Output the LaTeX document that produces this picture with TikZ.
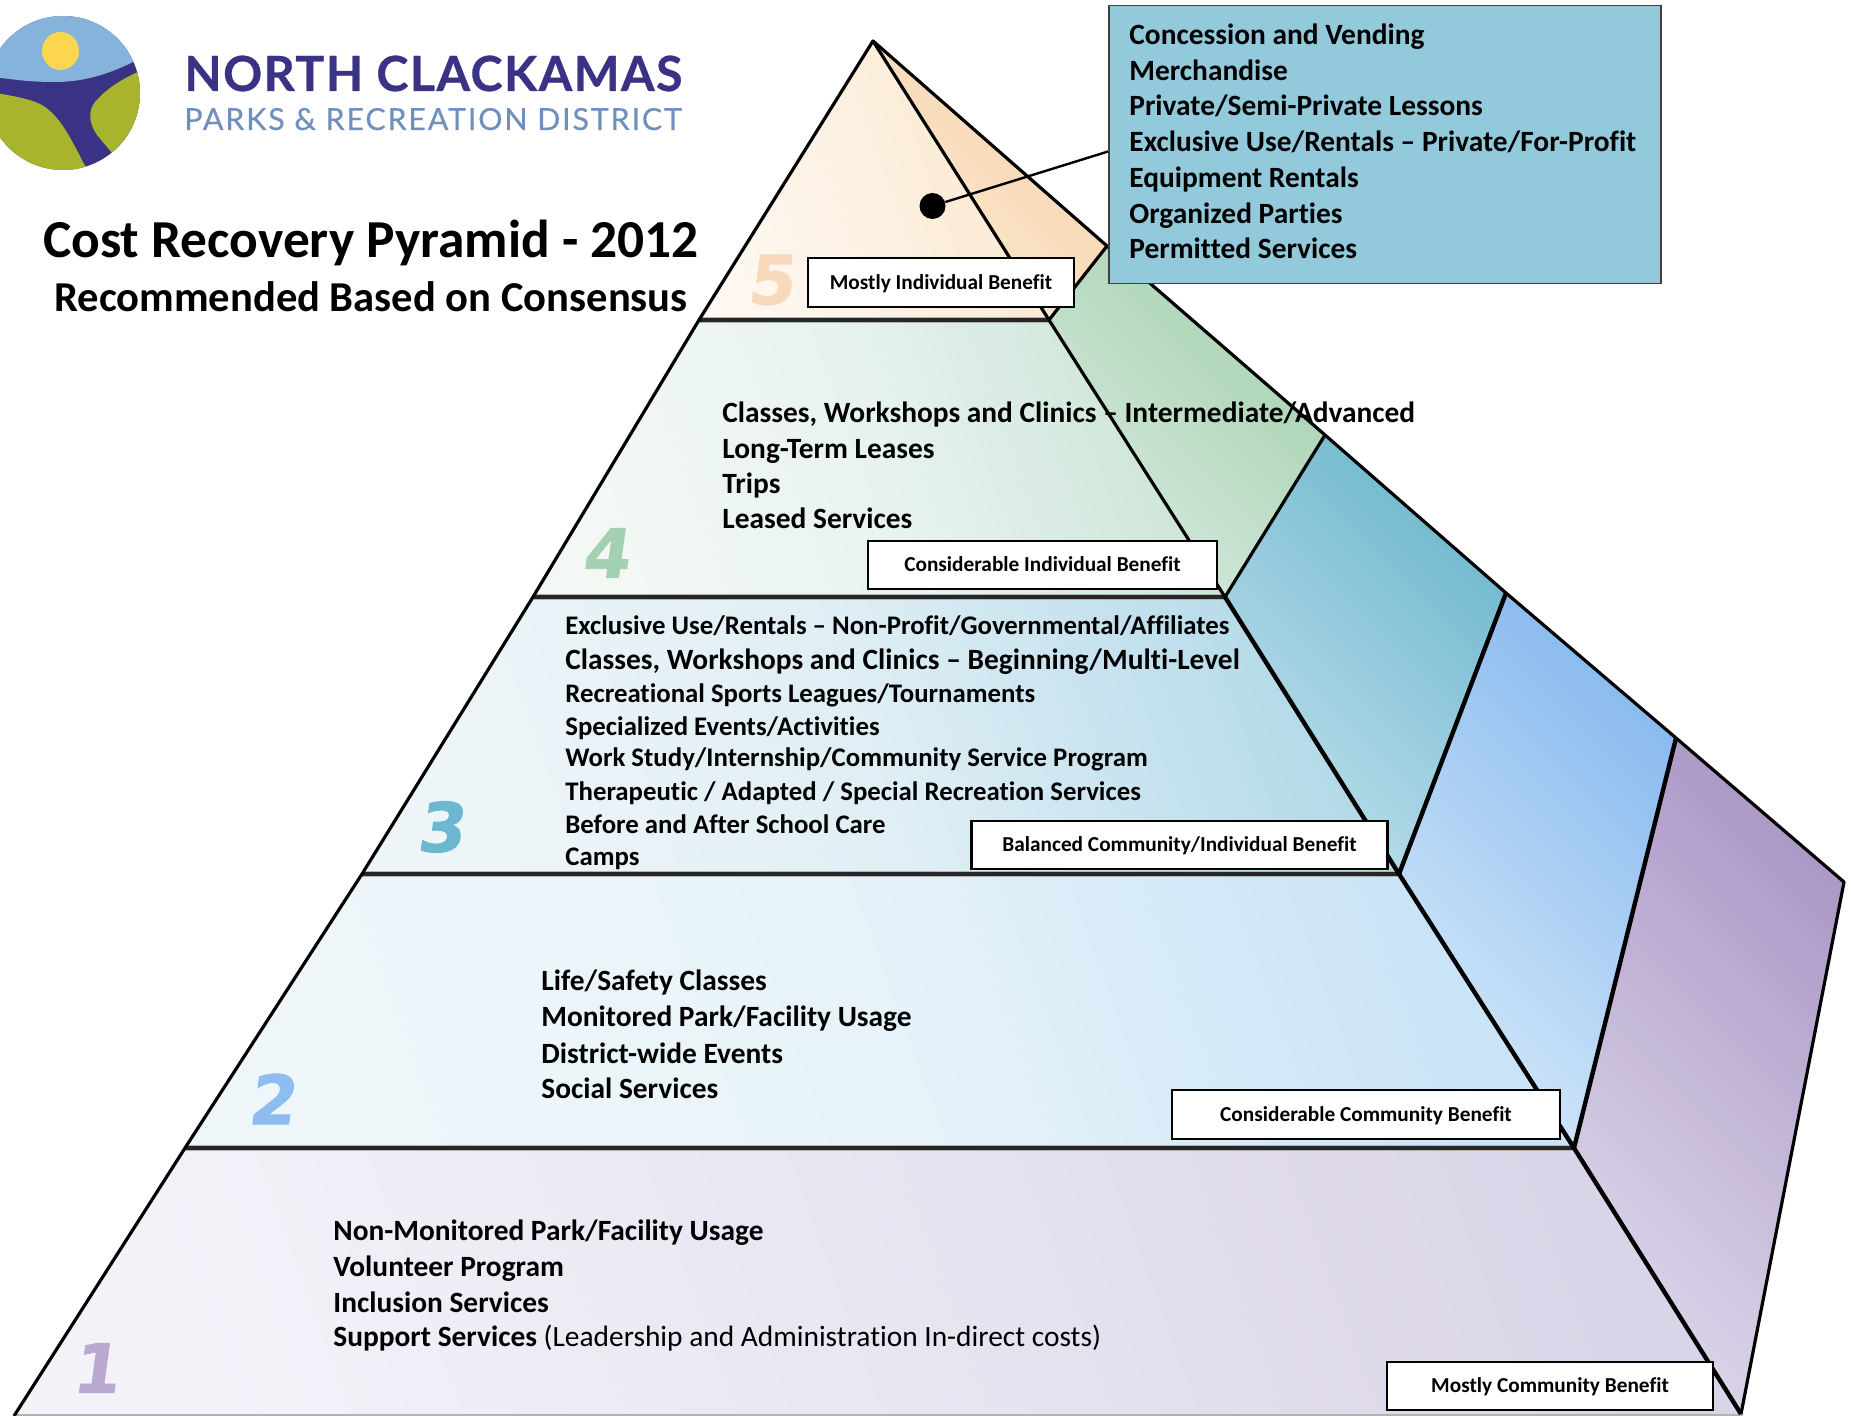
\documentclass[tikz,border=0pt]{standalone}
\usepackage{fontspec}
\setmainfont[Ligatures=NoCommon]{Carlito}
\newfontfamily\numfont[FakeSlant=0.14,FakeBold=1.2]{DejaVu Sans}
\newfontfamily\logoa[LetterSpace=3,FakeBold=0.6]{Lato}
\newfontfamily\logob[LetterSpace=6,FakeBold=0.4]{Lato}
\definecolor{logonavy}{HTML}{3A3284}
\definecolor{logosky}{HTML}{85B3DC}
\definecolor{logogreen}{HTML}{A8B52C}
\definecolor{logosun}{HTML}{FDD64F}
\definecolor{logoblue}{HTML}{6F8FBC}
\definecolor{infofill}{HTML}{92CADC}
\definecolor{fa}{HTML}{FEF8F1}\definecolor{fm}{HTML}{FCF0E0}\definecolor{fb}{HTML}{FBE8CF}
\definecolor{ga}{HTML}{F3F8F5}\definecolor{gm}{HTML}{E8F3EE}\definecolor{gb}{HTML}{CCE4D8}
\definecolor{ha}{HTML}{EEF5F8}\definecolor{hm}{HTML}{DFEEF5}\definecolor{hb}{HTML}{B4DAE9}
\definecolor{ia}{HTML}{EFF6FA}\definecolor{im}{HTML}{E7F3F9}\definecolor{ib}{HTML}{C9E3F7}
\definecolor{ja}{HTML}{F4F2F9}\definecolor{jm}{HTML}{E9E5F1}\definecolor{jb}{HTML}{DAD4E8}
\definecolor{sfa}{HTML}{FBECD3}\definecolor{sfb}{HTML}{F6D0A9}
\definecolor{sga}{HTML}{D6EADF}\definecolor{sgb}{HTML}{A6D1AE}
\definecolor{sha}{HTML}{BDDFEC}\definecolor{shb}{HTML}{6DB7CD}
\definecolor{sia}{HTML}{D2E7F9}\definecolor{sib}{HTML}{87B9EE}
\definecolor{sja}{HTML}{DCD6E9}\definecolor{sjb}{HTML}{AB98C6}
\definecolor{d5c}{HTML}{F8D9BB}\definecolor{d4c}{HTML}{A3D0B0}
\definecolor{d3c}{HTML}{6CB8D0}\definecolor{d2c}{HTML}{8DBDEE}
\definecolor{d1c}{HTML}{B9A8CF}
\tikzset{
  edge/.style={line width=1.6pt,black,line join=round},
  heavy/.style={line width=2.2pt,black},
  level/.style={line width=1.7pt,black!85,line cap=butt},
  halo/.style={line width=3pt,black!30},
  liner/.style={anchor=base west,inner sep=0pt,font=\bfseries\fontsize{14.7}{16}\selectfont},
  linesm/.style={anchor=base west,inner sep=0pt,font=\bfseries\fontsize{13.4}{15}\selectfont},
  info/.style={anchor=base west,inner sep=0pt,font=\bfseries\fontsize{14.7}{16}\selectfont},
  bene/.style={draw=black,line width=1.1pt,fill=white,inner sep=0pt,text height=6.6pt,text depth=0pt,font=\bfseries\fontsize{10.65}{12}\selectfont},
  digit/.style={inner sep=0pt,font=\numfont\bfseries\fontsize{34}{36}\selectfont},
}
\begin{document}
\begin{tikzpicture}[x=0.5pt,y=-0.5pt]
\useasboundingbox (0,0) rectangle (1852,1416);
\clip (0,0) rectangle (1852,1416);
% front faces
\shade[bottom color=fa,top color=fb,middle color=fm,shading angle=-70] (873,41) -- (699,320) -- (1049,320) -- cycle;
\shade[bottom color=ga,top color=gb,middle color=gm,shading angle=-70] (699,320) -- (533,597) -- (1225,597) -- (1049,320) -- cycle;
\shade[bottom color=ha,top color=hb,middle color=hm,shading angle=-70] (533,597) -- (362,874) -- (1399,874) -- (1225,597) -- cycle;
\shade[bottom color=ia,top color=ib,middle color=im,shading angle=-70] (362,874) -- (185,1148) -- (1574,1148) -- (1399,874) -- cycle;
\shade[bottom color=ja,top color=jb,middle color=jm,shading angle=-70] (185,1148) -- (14,1416) -- (1743,1416) -- (1574,1148) -- cycle;
% side faces
\shade[bottom color=sfa,top color=sfb,shading angle=-45] (873,41) -- (1107,246) -- (1049,320) -- cycle;
\shade[bottom color=sga,top color=sgb,shading angle=-45] (1049,320) -- (1107,246) -- (1325,435) -- (1225,597) -- cycle;
\shade[bottom color=sha,top color=shb,shading angle=-45] (1225,597) -- (1325,435) -- (1506,593) -- (1399,874) -- cycle;
\shade[bottom color=sia,top color=sib,shading angle=-45] (1399,874) -- (1506,593) -- (1676,738) -- (1574,1148) -- cycle;
\shade[bottom color=sja,top color=sjb,shading angle=-45] (1574,1148) -- (1676,738) -- (1844,882) -- (1741,1414) -- cycle;
% level rules
\draw[black!30,line width=0.8pt] (14,1415) -- (1743,1415);
\foreach \ax/\bx/\yy in {699/1049/320,533/1225/597,362/1399/874,185/1574/1148}{
  \draw[halo] (\ax,\yy) -- (\bx,\yy);
  \draw[level] (\ax,\yy) -- (\bx,\yy);
}
% outline
\draw[edge] (14,1416) -- (185,1148) -- (362,874) -- (533,597) -- (699,320) -- (873,41) -- (1107,246) -- (1325,435) -- (1506,593) -- (1676,738) -- (1844,882) -- (1741,1414);
\draw[edge] (873,41) -- (1049,320) -- (1225,597);
\draw[heavy] (1225,597) -- (1399,874) -- (1574,1148) -- (1741,1414);
\draw[edge] (1049,320) -- (1107,246);
\draw[edge] (1225,597) -- (1325,435);
\draw[heavy] (1399,874) -- (1506,593);
\draw[heavy] (1574,1148) -- (1676,738);
% digits
\node[digit,text=d5c] (d5) at (770,280) {5};
\node[digit,text=d4c] (d4) at (605,553) {4};
\node[digit,text=d3c] (d3) at (440,827) {3};
\node[digit,text=d2c] (d2) at (271,1099) {2};
\node[digit,text=d1c] (d1) at (95,1368) {1};
% logo
\begin{scope}
\clip (63,93) circle[radius=77];
\fill[logonavy] (-20,0) rectangle (150,180);
\fill[logosky] (-20,0) -- (150,0) -- (150,55) -- (133,62) .. controls (105,76) and (80,82) .. (55,82) .. controls (30,82) and (15,80) .. (-20,75) -- cycle;
\fill[logogreen] (-20,90) .. controls (5,95) and (25,97) .. (40,104) .. controls (55,112) and (65,128) .. (73,143) .. controls (78,152) and (82,160) .. (86,168) -- (86,190) -- (-20,190) -- cycle;
\fill[logogreen] (150,66) -- (138,72) .. controls (120,80) and (105,90) .. (95,102) .. controls (87,112) and (90,125) .. (97,135) -- (112,153) -- (150,153) -- cycle;
\end{scope}
\fill[logosun] (60.5,51) ellipse[x radius=18.5,y radius=19];
\node[anchor=base west,inner sep=0pt,text=logonavy,font=\logoa\bfseries\fontsize{24.2}{26}\selectfont] (logo1) at (184,91) {NORTH CLACKAMAS};
\node[anchor=base west,inner sep=0pt,text=logoblue,font=\logob\fontsize{15.2}{17}\selectfont] (logo2) at (184,130) {PARKS \& RECREATION DISTRICT};
% titles
\node[anchor=base,inner sep=0pt,font=\bfseries\fontsize{26.7}{28}\selectfont] (title) at (371,258) {Cost Recovery Pyramid - 2012};
\node[anchor=base,inner sep=0pt,font=\bfseries\fontsize{21.3}{23}\selectfont] (subtitle) at (371,312) {Recommended Based on Consensus};
% info box
\node[draw=black!75,line width=0.9pt,fill=infofill,minimum width=276pt,minimum height=139pt,inner sep=0pt] (infobox) at (1385,144.5) {};
\node[info] (i1) at (1129,45) {Concession and Vending};
\node[info] (i2) at (1129,81) {Merchandise};
\node[info] (i3) at (1129,116) {Private/Semi-Private Lessons};
\node[info] (i4) at (1129,152) {Exclusive Use/Rentals – Private/For-Profit};
\node[info] (i5) at (1129,188) {Equipment Rentals};
\node[info] (i6) at (1129,224) {Organized Parties};
\node[info] (i7) at (1129,259) {Permitted Services};
\node[circle,fill=black,inner sep=0pt,minimum size=13pt] (dot) at (932.5,206) {};
\draw[line width=1.2pt] (dot) -- ([yshift=-3.5pt]infobox.west);
% level 4
\node[liner] (a1) at (722,423) {Classes, Workshops and Clinics – Intermediate/Advanced};
\node[liner] (a2) at (722,459) {Long-Term Leases};
\node[liner] (a3) at (722,494) {Trips};
\node[liner] (a4) at (722,529) {Leased Services};
% level 3
\node[linesm] (b1) at (565,635) {Exclusive Use/Rentals – Non-Profit/Governmental/Affiliates};
\node[liner] (b2) at (565,670) {Classes, Workshops and Clinics – Beginning/Multi-Level};
\node[linesm] (b3) at (565,703) {Recreational Sports Leagues/Tournaments};
\node[linesm] (b4) at (565,735) {Specialized Events/Activities};
\node[linesm] (b5) at (565,767) {Work Study/Internship/Community Service Program};
\node[linesm] (b6) at (565,800) {Therapeutic / Adapted / Special Recreation Services};
\node[linesm] (b7) at (565,833) {Before and After School Care};
\node[linesm] (b8) at (565,865) {Camps};
% level 2
\node[liner] (c1) at (541,990) {Life/Safety Classes};
\node[liner] (c2) at (541,1026) {Monitored Park/Facility Usage};
\node[liner] (c3) at (541,1063) {District-wide Events};
\node[liner] (c4) at (541,1098) {Social Services};
% level 1
\node[liner] (e1) at (333,1240) {Non-Monitored Park/Facility Usage};
\node[liner] (e2) at (333,1276) {Volunteer Program};
\node[liner] (e3) at (333,1312) {Inclusion Services};
\node[liner] (e4) at (333,1346) {Support Services \mdseries(Leadership and Administration In-direct costs)};
% benefit labels
\node[bene,minimum width=133pt,minimum height=24.5pt] (m5) at (941,282.5) {Mostly Individual Benefit};
\node[bene,minimum width=174.5pt,minimum height=24pt] (m4) at (1042.5,565) {Considerable Individual Benefit};
\node[bene,minimum width=208pt,minimum height=24pt] (m3) at (1179.5,845) {Balanced Community/Individual Benefit};
\node[bene,minimum width=194pt,minimum height=24.5pt] (m2) at (1366,1114.5) {Considerable Community Benefit};
\node[bene,minimum width=163pt,minimum height=24pt] (m1) at (1550,1386) {Mostly Community Benefit};
\end{tikzpicture}
\end{document}
